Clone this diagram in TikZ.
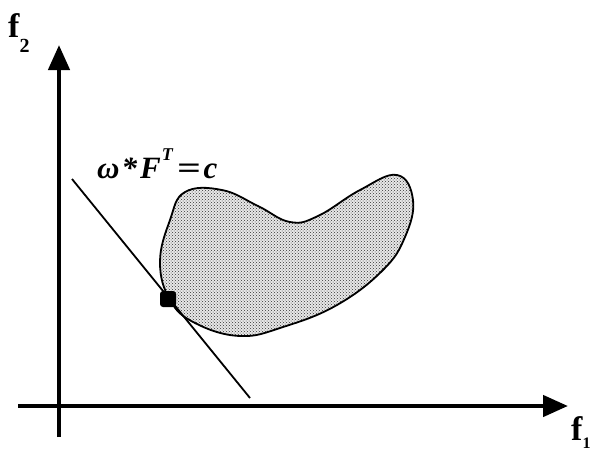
\documentclass[tikz,border=0pt]{standalone}
\usepackage{fontspec}
\usepackage{graphicx}
\newfontfamily\eqfont{Liberation Serif}
\usetikzlibrary{patterns,arrows.meta}
\begin{document}
\begin{tikzpicture}[x=1pt,y=-1pt,
  axis/.style={line width=4.5pt,-{Triangle[length=25pt,width=21pt]}},
  lbl/.style={font={\fontsize{34}{36}\selectfont\eqfont\bfseries},inner sep=0pt,anchor=base west},
  eqs/.style={font={\fontsize{31}{33}\selectfont\eqfont\bfseries\itshape},inner sep=0pt,anchor=base west},
  blob/.style={line width=1.8pt,preaction={fill=gray!18},pattern=crosshatch dots,pattern color=black!80},
  tangent/.style={line width=1.8pt}]
\useasboundingbox (0,0) rectangle (597,453);
\coordinate (vb) at (59,437);
\coordinate (vt) at (59,45);
\coordinate (hl) at (18,406);
\coordinate (hr) at (568,406);
\draw[axis] (vb) -- (vt);
\draw[axis] (hl) -- (hr);
\node[lbl] (f2) at (8,37) {f\raisebox{-15pt}{\fontsize{20}{20}\selectfont 2}};
\node[lbl] (f1) at (571,440) {f\raisebox{-8pt}{\fontsize{16}{16}\selectfont 1}};
\draw[blob] plot[smooth cycle,tension=0.7] coordinates {
 (185,192) (222,190) (258,206) (290,222) (318,216) (360,190) (397,175)
 (413,200) (405,237) (383,270) (337,305) (283,327) (240,336) (195,323)
 (170,300) (160,262) (170,220)};
\coordinate (ta) at (72,179);
\coordinate (tb) at (250,398);
\draw[tangent] (ta) -- (tb);
\node[fill=black,minimum size=16pt,inner sep=0pt,rounded corners=3pt] (dot) at (168,299) {};
\node[eqs] (eqn) at (97,178) {ω\kern2pt*\kern3pt F\kern1pt\raisebox{18pt}{\fontsize{18}{18}\selectfont T}\kern4pt\scalebox{1.35}[1]{=}\kern3pt c};
\end{tikzpicture}
\end{document}
